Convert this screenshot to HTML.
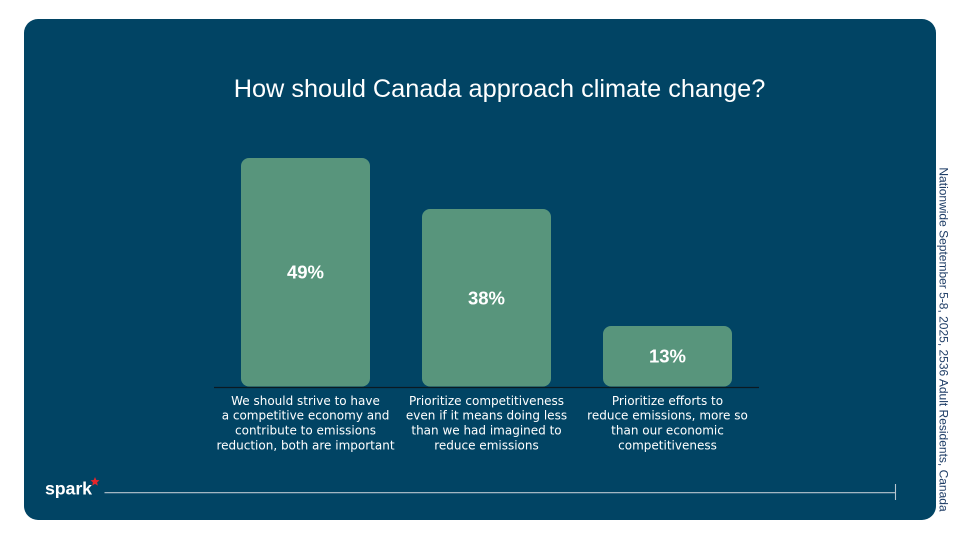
<!DOCTYPE html>
<html>
<head>
<meta charset="utf-8">
<style>
  html, body { margin: 0; padding: 0; background: #ffffff; }
  body { width: 960px; height: 540px; overflow: hidden; }
  svg { display: block; }
</style>
</head>
<body>
<svg width="960" height="540" viewBox="0 0 960 540" xmlns="http://www.w3.org/2000/svg">
  <rect x="0" y="0" width="960" height="540" fill="#ffffff"/>
  <!-- panel -->
  <rect x="24" y="19" width="912" height="501" rx="14" ry="14" fill="#014464"/>

  <!-- title -->
  <text x="499.5" y="97" text-anchor="middle" font-family="Liberation Sans, Arial, sans-serif" font-size="25.3" fill="#ffffff">How should Canada approach climate change?</text>

  <!-- bars -->
  <rect x="241" y="158" width="129" height="228.5" rx="8" ry="8" fill="#58957c"/>
  <rect x="422" y="209" width="129" height="177.5" rx="8" ry="8" fill="#58957c"/>
  <rect x="603" y="326" width="129" height="60.5" rx="8" ry="8" fill="#58957c"/>

  <!-- axis line -->
  <line x1="214" y1="387.5" x2="759" y2="387.5" stroke="#0b1a22" stroke-width="1.2"/>

  <!-- values -->
  <g font-family="Liberation Sans, Arial, sans-serif" font-weight="bold" font-size="18.5" fill="#ffffff" text-anchor="middle">
    <text x="305.5" y="278.3">49%</text>
    <text x="486.5" y="304.3">38%</text>
    <text x="667.5" y="362.3">13%</text>
  </g>

  <!-- category labels -->
  <g font-family="DejaVu Sans, Verdana, sans-serif" font-size="12" fill="#ffffff" text-anchor="middle">
    <text x="305.5" y="405">We should strive to have</text>
    <text x="305.5" y="419.7">a competitive economy and</text>
    <text x="305.5" y="434.5">contribute to emissions</text>
    <text x="305.5" y="449.3">reduction, both are important</text>

    <text x="486.5" y="405">Prioritize competitiveness</text>
    <text x="486.5" y="419.7">even if it means doing less</text>
    <text x="486.5" y="434.5">than we had imagined to</text>
    <text x="486.5" y="449.3">reduce emissions</text>

    <text x="667.5" y="405">Prioritize efforts to</text>
    <text x="667.5" y="419.7">reduce emissions, more so</text>
    <text x="667.5" y="434.5">than our economic</text>
    <text x="667.5" y="449.3">competitiveness</text>
  </g>

  <!-- footer line -->
  <line x1="104.5" y1="492.7" x2="895.5" y2="492.7" stroke="#b9c6cf" stroke-width="1.1"/>
  <line x1="895.5" y1="484" x2="895.5" y2="500" stroke="#b9c6cf" stroke-width="1.1"/>

  <!-- spark logo -->
  <text x="45" y="494.5" font-family="Liberation Sans, Arial, sans-serif" font-weight="bold" font-size="17.8" fill="#ffffff" letter-spacing="-0.1">spark</text>
  <polygon points="95,477 96.3,480 99.5,480.3 97.1,482.4 97.8,485.6 95,483.9 92.2,485.6 92.9,482.4 90.5,480.3 93.7,480" fill="#e8262a"/>

  <!-- vertical source text -->
  <text transform="translate(939.5,339.5) rotate(90)" text-anchor="middle" font-family="Liberation Sans, Arial, sans-serif" font-size="12" fill="#1e3d66">Nationwide September 5-8, 2025, 2536 Adult Residents, Canada</text>
</svg>
</body>
</html>
